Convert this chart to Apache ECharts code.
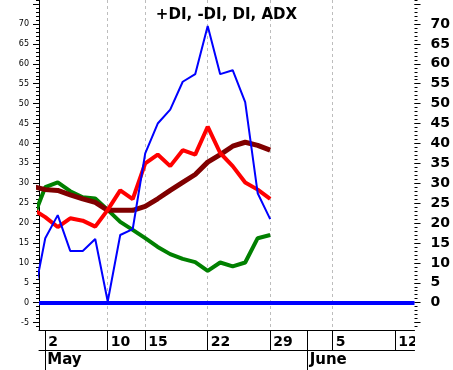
<!DOCTYPE html>
<html><head><meta charset="utf-8">
<script src="https://cdn.jsdelivr.net/npm/echarts@6/dist/echarts.min.js"></script>
<style>html,body{margin:0;padding:0;background:#fff}#c{width:453px;height:370px}</style>
</head><body><div id="c"></div>
<script>
// trading-day index (0 = May 2); index -1 is the previous session, clipped at the left edge
const tradingDay = [-1,0,1,2,3,4,5,6,7,8,9,10,11,12,13,14,15,16,17,18];
const dxValues    = [0,16.2,22,13,13,16,0.3,17,18.5,37.5,45,48.5,55.5,57.4,69.5,57.4,58.4,50.4,27.5,21];
const plusDI      = [23.5,21.5,19,21.2,20.6,19.1,23.3,28.2,26,35,37.2,34.3,38.3,37.2,44.2,37.6,34.3,30.2,28.4,26.1];
const minusDI     = [21,29,30.2,28,26.5,26.2,23.3,20.3,18.3,16.2,14,12.2,11,10.2,8,10.1,9.1,10.1,16.2,17];
const adxValues   = [29.2,28.4,28.2,27.1,26.1,25.2,23.2,23.2,23.2,24.2,26.1,28.2,30.2,32.2,35.3,37.2,39.3,40.3,39.5,38.3];
const dayTickIndex = [0,5,8,13,18,23,28];
const dayTickLabel = ['2','10','15','22','29','5','12'];
const monthStartIndex = [0,21];
const monthLabel = ['May','June'];
const yMajorTicks = [-5,0,5,10,15,20,25,30,35,40,45,50,55,60,65,70,75];
const yLeftLabels = [-5,0,5,10,15,20,25,30,35,40,45,50,55,60,65,70];
const yRightLabels = [0,5,10,15,20,25,30,35,40,45,50,55,60,65,70];
const titleText = '+DI, -DI, DI, ADX';

const yMinorTicks = [];
for (let v = -6; v <= 76; v++) yMinorTicks.push(v);
const YMIN = -6.86, YMAX = 76.03, XMIN = -0.5, XMAX = 29.55;
const FONT = 'DejaVu Sans';
const pair = arr => tradingDay.map((d, i) => [d, arr[i]]);

const yBase = {type:'value', min:YMIN, max:YMAX, splitLine:{show:false}};
const chart = echarts.init(document.getElementById('c'), null, {renderer:'canvas'});
chart.setOption({
  animation:false,
  backgroundColor:'#fff',
  title:{text:titleText, left:'center', top:3,
    textStyle:{fontFamily:FONT, fontWeight:'bold', fontSize:15, color:'#000'}},
  grid:{left:39, right:38, top:0, bottom:40, containLabel:false},
  xAxis:[
    {type:'value', min:XMIN, max:XMAX, position:'bottom',
      axisLine:{show:true, onZero:false, lineStyle:{color:'#000', width:1}},
      axisTick:{show:true, customValues:dayTickIndex, length:20, lineStyle:{color:'#000', width:1}},
      axisLabel:{show:true, customValues:dayTickIndex, align:'left', verticalAlign:'top', margin:5,
        padding:[0,0,0,3], fontFamily:FONT, fontWeight:'bold', fontSize:14, color:'#000',
        formatter:v => dayTickLabel[dayTickIndex.indexOf(Math.round(v))] || ''},
      splitLine:{show:true, showMinLine:false, showMaxLine:false,
        lineStyle:{color:'#bdbdbd', type:[3,3], width:1}}},
    {type:'value', min:XMIN, max:XMAX, position:'bottom', offset:20,
      axisLine:{show:true, onZero:false, lineStyle:{color:'#000', width:1}},
      axisTick:{show:true, customValues:monthStartIndex, length:20, lineStyle:{color:'#000', width:1}},
      axisLabel:{show:true, customValues:monthStartIndex, align:'left', verticalAlign:'top', margin:3,
        padding:[0,0,0,2], fontFamily:FONT, fontWeight:'bold', fontSize:15, color:'#000',
        formatter:v => monthLabel[monthStartIndex.indexOf(Math.round(v))] || ''},
      splitLine:{show:false}},
    {type:'value', min:XMIN, max:XMAX, position:'bottom', offset:0,
      axisLine:{show:false, onZero:false},
      axisTick:{show:true, customValues:[monthStartIndex[1]], length:20, lineStyle:{color:'#000', width:1}},
      axisLabel:{show:false}, splitLine:{show:false}}
  ],
  yAxis:[
    Object.assign({}, yBase, {position:'left',
      axisLine:{show:true, onZero:false, lineStyle:{color:'#000', width:1}},
      axisTick:{show:true, customValues:yMajorTicks, length:6, lineStyle:{color:'#000'}},
      axisLabel:{show:true, customValues:yLeftLabels, margin:10, fontFamily:FONT, fontSize:8, color:'#000'}}),
    Object.assign({}, yBase, {position:'left', axisLine:{show:false, onZero:false},
      axisTick:{show:true, customValues:yMinorTicks, length:3, lineStyle:{color:'#000'}},
      axisLabel:{show:false}}),
    Object.assign({}, yBase, {position:'right', axisLine:{show:false, onZero:false},
      axisTick:{show:true, customValues:yMajorTicks, length:6, lineStyle:{color:'#000'}},
      axisLabel:{show:true, customValues:yRightLabels, margin:16, fontFamily:FONT, fontWeight:'bold', fontSize:14, color:'#000'}}),
    Object.assign({}, yBase, {position:'right', axisLine:{show:false, onZero:false},
      axisTick:{show:true, customValues:yMinorTicks, length:3, lineStyle:{color:'#000'}},
      axisLabel:{show:false}})
  ],
  series:[
    {name:'-DI', type:'line', data:pair(minusDI), symbol:'none', clip:true, z:2,
      lineStyle:{color:'#008000', width:4}},
    {name:'ADX', type:'line', data:pair(adxValues), symbol:'none', clip:true, z:3,
      lineStyle:{color:'#800000', width:5}},
    {name:'+DI', type:'line', data:pair(plusDI), symbol:'none', clip:true, z:4,
      lineStyle:{color:'#ff0000', width:4}},
    {name:'DI', type:'line', data:pair(dxValues), symbol:'none', clip:true, z:5,
      lineStyle:{color:'#0000ff', width:2},
      markLine:{silent:true, symbol:'none', label:{show:false},
        lineStyle:{color:'#0000ff', width:4, type:'solid'}, data:[{yAxis:0}]}}
  ],
  graphic:[{type:'rect', shape:{x:415, y:331, width:38, height:19}, style:{fill:'#fff'}, z:100, silent:true}]
});
</script></body></html>
